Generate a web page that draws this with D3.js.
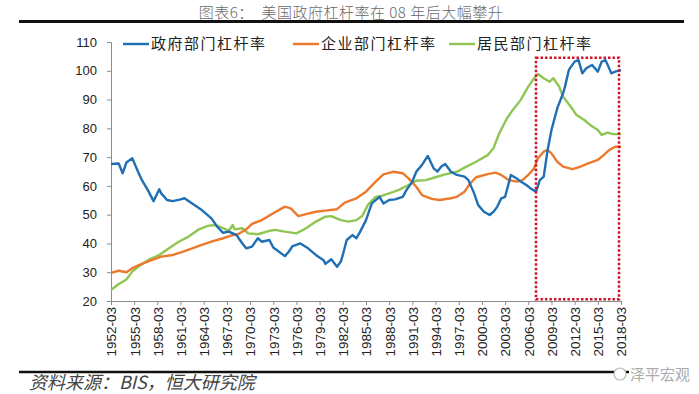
<!DOCTYPE html>
<html>
<head>
<meta charset="utf-8">
<script src="https://cdn.jsdelivr.net/npm/d3@7"></script>
<style>
  html, body { margin: 0; padding: 0; background: #fff; }
  svg { display: block; font-family: "Noto Sans CJK SC", "Liberation Sans", Arial, sans-serif; }
</style>
</head>
<body>
<svg id="chart" width="699" height="394"></svg>
<script>
// ---------- data ----------
const seriesNames = ["政府部门杠杆率", "企业部门杠杆率", "居民部门杠杆率"];

const govData = [
  ["1952-03", 67.6], ["1953-03", 67.8], ["1953-09", 64.4], ["1954-03", 68.1], ["1954-12", 69.6],
  ["1955-09", 64.9], ["1956-03", 62.0], ["1956-12", 58.6], ["1957-09", 54.7], ["1958-06", 58.8],
  ["1958-09", 57.4], ["1959-06", 55.1], ["1960-03", 54.7], ["1961-03", 55.3], ["1961-09", 55.7],
  ["1962-09", 53.9], ["1963-12", 51.6], ["1965-03", 48.7], ["1965-12", 45.8], ["1966-09", 43.7],
  ["1967-06", 44.1], ["1968-06", 42.9], ["1969-03", 40.0], ["1969-09", 38.3], ["1970-06", 38.9],
  ["1971-03", 41.8], ["1971-09", 40.6], ["1972-09", 41.2], ["1973-03", 38.6], ["1974-09", 35.6],
  ["1975-03", 37.1], ["1975-09", 39.1], ["1976-09", 40.0], ["1977-09", 38.3], ["1978-09", 36.0],
  ["1979-09", 34.2], ["1979-12", 32.9], ["1980-09", 34.5], ["1981-06", 31.9], ["1981-12", 33.7],
  ["1982-03", 36.0], ["1982-09", 41.2], ["1983-06", 42.9], ["1983-12", 41.8], ["1984-06", 44.1],
  ["1985-03", 48.1], ["1985-12", 53.9], ["1986-12", 56.2], ["1987-06", 53.9], ["1988-03", 55.1],
  ["1988-12", 55.3], ["1989-12", 56.2], ["1990-06", 58.6], ["1991-03", 61.5], ["1991-09", 64.9],
  ["1992-06", 67.3], ["1993-03", 70.4], ["1993-12", 66.1], ["1994-06", 65.0], ["1994-12", 66.7],
  ["1995-06", 67.6], ["1996-03", 64.9], ["1996-12", 63.8], ["1997-12", 63.2], ["1998-06", 62.0],
  ["1999-03", 57.4], ["1999-09", 53.4], ["2000-06", 51.0], ["2001-03", 49.9], ["2001-09", 51.0],
  ["2002-03", 52.8], ["2002-09", 55.7], ["2003-03", 56.2], ["2003-12", 63.8], ["2004-09", 62.6],
  ["2005-03", 61.5], ["2005-12", 60.3], ["2006-06", 59.2], ["2007-03", 58.0], ["2007-09", 62.0],
  ["2008-03", 63.2], ["2008-09", 72.5], ["2009-03", 79.4], ["2009-12", 87.0], ["2010-09", 92.2],
  ["2010-12", 94.5], ["2011-06", 100.3], ["2012-03", 103.2], ["2012-09", 103.7], ["2013-03", 99.1],
  ["2013-09", 100.9], ["2014-06", 102.0], ["2015-03", 99.7], ["2015-09", 103.2], ["2016-03", 103.7],
  ["2016-12", 99.1], ["2017-06", 99.7], ["2018-03", 100.2]
];

const corpData = [
  ["1952-03", 29.8], ["1953-03", 30.5], ["1954-03", 30.0], ["1954-12", 31.4], ["1956-03", 32.9],
  ["1957-06", 34.2], ["1958-09", 35.4], ["1960-03", 36.0], ["1961-06", 37.1], ["1962-09", 38.3],
  ["1963-12", 39.5], ["1965-03", 40.6], ["1966-09", 41.8], ["1967-12", 42.9], ["1968-09", 43.3],
  ["1969-09", 44.9], ["1970-06", 46.8], ["1971-09", 48.1], ["1973-03", 50.5], ["1974-09", 52.8],
  ["1975-06", 52.2], ["1976-06", 49.5], ["1977-06", 50.2], ["1978-09", 51.0], ["1979-12", 51.4],
  ["1981-06", 51.9], ["1982-06", 54.2], ["1983-12", 55.7], ["1985-03", 58.0], ["1986-06", 61.5],
  ["1987-06", 64.0], ["1988-09", 64.9], ["1989-12", 64.4], ["1990-09", 62.6], ["1991-09", 59.7],
  ["1992-06", 56.8], ["1993-09", 55.5], ["1994-09", 55.1], ["1996-03", 55.7], ["1996-12", 56.2],
  ["1997-12", 58.0], ["1998-09", 60.9], ["1999-06", 63.0], ["2000-12", 64.1], ["2001-12", 64.6],
  ["2002-09", 63.8], ["2003-09", 62.0], ["2004-09", 61.5], ["2005-06", 62.0], ["2006-03", 63.8],
  ["2006-12", 66.1], ["2007-06", 69.6], ["2008-03", 71.9], ["2008-09", 72.5], ["2009-03", 71.3],
  ["2009-12", 68.4], ["2010-09", 66.7], ["2011-12", 65.8], ["2012-12", 66.7], ["2013-12", 67.8],
  ["2015-03", 69.0], ["2015-12", 70.7], ["2016-09", 72.5], ["2017-06", 73.6], ["2018-03", 73.6]
];

const houseData = [
  ["1952-03", 23.8], ["1953-03", 25.9], ["1954-03", 27.5], ["1954-12", 30.2], ["1955-09", 31.9],
  ["1957-03", 34.5], ["1958-06", 36.0], ["1959-09", 38.3], ["1960-12", 40.6], ["1962-03", 42.3],
  ["1963-06", 44.7], ["1964-09", 46.1], ["1965-09", 46.4], ["1966-09", 45.3], ["1967-06", 44.4],
  ["1967-12", 46.4], ["1968-03", 44.9], ["1969-03", 45.3], ["1969-12", 43.5], ["1971-03", 43.2],
  ["1972-09", 44.4], ["1973-06", 44.7], ["1974-09", 44.1], ["1976-03", 43.5], ["1977-06", 45.3],
  ["1978-09", 47.6], ["1979-12", 49.3], ["1980-09", 49.5], ["1981-12", 48.1], ["1982-12", 47.6],
  ["1983-12", 48.1], ["1984-09", 49.5], ["1985-06", 53.4], ["1986-06", 56.2], ["1987-03", 56.5],
  ["1988-03", 57.4], ["1989-06", 58.6], ["1990-09", 60.3], ["1991-09", 61.8], ["1992-12", 62.0],
  ["1994-03", 63.0], ["1995-06", 64.0], ["1996-12", 64.9], ["1998-03", 66.7], ["1999-06", 68.4],
  ["2000-12", 70.7], ["2001-09", 73.1], ["2002-06", 78.3], ["2003-06", 83.5], ["2004-03", 86.4],
  ["2005-03", 89.8], ["2006-03", 94.5], ["2006-12", 97.4], ["2007-06", 98.9], ["2008-03", 97.4],
  ["2008-12", 96.2], ["2009-06", 97.4], ["2010-03", 94.5], ["2010-09", 91.0], ["2011-09", 87.5],
  ["2012-06", 84.6], ["2013-06", 82.9], ["2014-03", 81.2], ["2015-03", 79.4], ["2015-09", 77.7],
  ["2016-06", 78.5], ["2017-03", 78.0], ["2018-03", 78.0]
];

const xTickLabels = ["1952-03","1955-03","1958-03","1961-03","1964-03","1967-03","1970-03","1973-03",
  "1976-03","1979-03","1982-03","1985-03","1988-03","1991-03","1994-03","1997-03","2000-03",
  "2003-03","2006-03","2009-03","2012-03","2015-03","2018-03"];
const yTicks = [20, 30, 40, 50, 60, 70, 80, 90, 100, 110];

// highlight box (date range and value range)
const boxRange = ["2007-03", "2018-03"];
const boxValues = [20.6, 104.5];

const titleText = "图表6：  美国政府杠杆率在 08 年后大幅攀升";
const sourceText = "资料来源：BIS，恒大研究院";
const watermarkText = "泽平宏观";

// ---------- drawing ----------
const colors = ["#1f6fb4", "#eb7a2c", "#8fc653"];
const parse = d3.timeParse("%Y-%m");
const svg = d3.select("#chart");

const x = d3.scaleTime()
  .domain([parse("1952-03"), parse("2018-03")])
  .range([111, 621]);
const y = d3.scaleLinear().domain([20, 110]).range([301, 42]);

// title
svg.append("text")
  .attr("x", 351).attr("y", 18)
  .attr("text-anchor", "middle")
  .attr("font-size", 15)
  .attr("font-weight", 300)
  .attr("letter-spacing", 0.5)
  .attr("fill", "#6a6a6a")
  .attr("xml:space", "preserve")
  .style("white-space", "pre")
  .text(titleText);

svg.append("line")
  .attr("x1", 19).attr("x2", 684).attr("y1", 21.5).attr("y2", 21.5)
  .attr("stroke", "#111").attr("stroke-width", 3);

// y axis
const yAxis = d3.axisLeft(y).tickValues(yTicks).tickSize(4).tickPadding(10);
const gy = svg.append("g").attr("transform", "translate(111,0)").call(yAxis);
gy.select(".domain").attr("stroke", "#8c8c8c");
gy.selectAll(".tick line").attr("stroke", "#8c8c8c");
gy.selectAll(".tick text")
  .attr("font-family", "'Liberation Sans', Arial, sans-serif")
  .attr("font-size", 13).attr("fill", "#222");

// x axis
const xAxis = d3.axisBottom(x)
  .tickValues(xTickLabels.map(parse))
  .tickFormat(d3.timeFormat("%Y-%m"))
  .tickSize(4).tickSizeOuter(0);
const gx = svg.append("g").attr("transform", "translate(0,301)").call(xAxis);
gx.select(".domain").attr("stroke", "#8c8c8c");
gx.selectAll(".tick line").attr("stroke", "#8c8c8c");
gx.selectAll(".tick text")
  .attr("font-family", "'Liberation Sans', Arial, sans-serif")
  .attr("font-size", 13.5).attr("fill", "#222")
  .attr("text-anchor", "end")
  .attr("transform", "rotate(-90)")
  .attr("x", -6).attr("y", 0).attr("dy", "0.36em");

// series lines
const line = d3.line()
  .x(d => x(parse(d[0])))
  .y(d => y(d[1]))
  .curve(d3.curveLinear);

const allSeries = [govData, corpData, houseData];
// draw green first, then orange, then blue on top
[2, 1, 0].forEach(i => {
  svg.append("path")
    .datum(allSeries[i])
    .attr("fill", "none")
    .attr("stroke", colors[i])
    .attr("stroke-width", 2.4)
    .attr("stroke-linejoin", "round")
    .attr("d", line);
});

// highlight box
const bx0 = x(parse(boxRange[0])), bx1 = x(parse(boxRange[1])) - 2;
const by0 = y(boxValues[1]), by1 = y(boxValues[0]);
svg.append("rect")
  .attr("x", bx0).attr("y", by0)
  .attr("width", bx1 - bx0).attr("height", by1 - by0)
  .attr("fill", "none")
  .attr("stroke", "#d0132a")
  .attr("stroke-width", 2.5)
  .attr("stroke-dasharray", "2.5,2");

// legend
const legendPos = [123, 293, 449];
seriesNames.forEach((name, i) => {
  const g = svg.append("g").attr("transform", `translate(${legendPos[i]},44)`);
  g.append("line").attr("x1", 0).attr("x2", 26).attr("y1", 0).attr("y2", 0)
    .attr("stroke", colors[i]).attr("stroke-width", 2.4);
  g.append("text").attr("x", 28).attr("y", 0).attr("dy", "0.36em")
    .attr("font-size", 15).attr("letter-spacing", 1.5).attr("fill", "#222")
    .text(name);
});

// bottom rule and source
svg.append("line")
  .attr("x1", 19).attr("x2", 684).attr("y1", 372).attr("y2", 372)
  .attr("stroke", "#111").attr("stroke-width", 2.5);

svg.append("text")
  .attr("x", 29).attr("y", 389)
  .attr("font-size", 18).attr("font-style", "italic")
  .attr("fill", "#444")
  .text(sourceText);

// watermark
svg.append("circle").attr("cx", 620).attr("cy", 374).attr("r", 6)
  .attr("fill", "#fff").attr("stroke", "#bbb").attr("stroke-width", 1.2);
svg.append("rect").attr("x", 629).attr("y", 365).attr("width", 62).attr("height", 17).attr("fill", "#fff");
svg.append("text")
  .attr("x", 630).attr("y", 380)
  .attr("font-size", 15).attr("fill", "#aaa")
  .text(watermarkText);
</script>
</body>
</html>
